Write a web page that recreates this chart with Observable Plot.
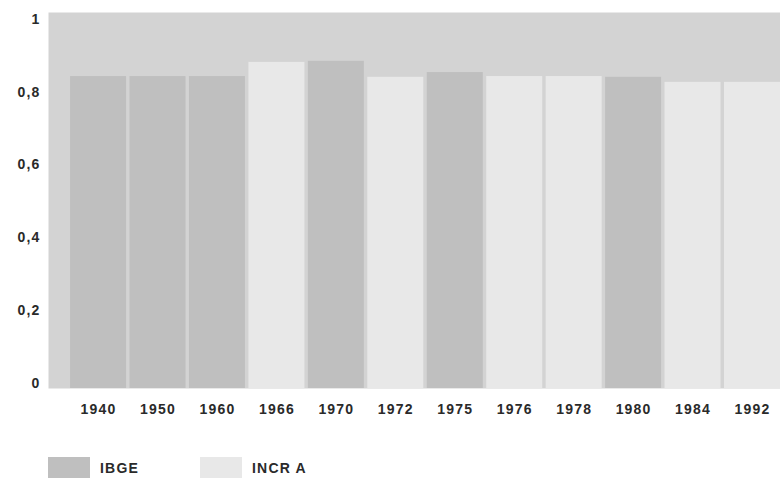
<!DOCTYPE html>
<html>
<head>
<meta charset="utf-8">
<script src="https://cdn.jsdelivr.net/npm/d3@7"></script>
<script src="https://cdn.jsdelivr.net/npm/@observablehq/plot@0.6"></script>
<style>
  html, body { margin: 0; padding: 0; background: #fff; overflow: hidden; }
  #chart svg { display: block; }
  .legend { position: relative; height: 21px; margin-top: 17px; font: bold 14px "Liberation Sans", Arial, sans-serif; letter-spacing: 1.2px; color: #2a2a2a; }
  .legend .item { position: absolute; top: 0; display: flex; align-items: center; height: 21px; }
  .legend .sw { width: 42px; height: 21px; margin-right: 10px; }
</style>
</head>
<body>
<div id="chart"></div>
<div class="legend" id="legend"></div>
<script>
const years   = ["1940","1950","1960","1966","1970","1972","1975","1976","1978","1980","1984","1992"];
const values  = [0.843, 0.843, 0.843, 0.882, 0.885, 0.841, 0.854, 0.843, 0.843, 0.841, 0.827, 0.827];
const sources = ["IBGE","IBGE","IBGE","INCRA","IBGE","INCRA","IBGE","INCRA","INCRA","IBGE","INCRA","INCRA"];
const yTicks  = [0, 0.2, 0.4, 0.6, 0.8, 1];
const yDomain = [-0.014, 1.019];
const seriesNames = ["IBGE", "INCRA"];
const seriesColors = ["#bfbfbf", "#e8e8e8"];

const data = years.map((y, i) => ({year: y, value: values[i], source: sources[i]}));

const chart = Plot.plot({
  width: 780,
  height: 440,
  marginTop: 12,
  marginBottom: 52,
  marginLeft: 48,
  marginRight: 0,
  style: {fontFamily: "'Liberation Sans', Arial, sans-serif", fontSize: "14px", fontWeight: "bold", color: "#2a2a2a", letterSpacing: "1.2px"},
  x: {domain: years, paddingInner: 0.058, paddingOuter: 0.1855, align: 1, round: false, label: null, tickSize: 0, tickPadding: 16},
  y: {domain: yDomain, ticks: yTicks, label: null, tickSize: 0, tickPadding: 8,
      tickFormat: d => String(d).replace(".", ",")},
  color: {domain: seriesNames, range: seriesColors},
  marks: [
    Plot.frame({fill: "#d3d3d3", stroke: null}),
    Plot.barY(data, {x: "year", y1: yDomain[0], y2: "value", fill: "source"})
  ]
});
document.getElementById("chart").appendChild(chart);

const legend = document.getElementById("legend");
const lx = [48, 200];
seriesNames.forEach((n, i) => {
  const it = document.createElement("div");
  it.className = "item";
  it.style.left = lx[i] + "px";
  it.innerHTML = `<span class="sw" style="background:${seriesColors[i]}"></span><span>${n === "INCRA" ? "INCR A" : n}</span>`;
  legend.appendChild(it);
});
</script>
</body>
</html>
